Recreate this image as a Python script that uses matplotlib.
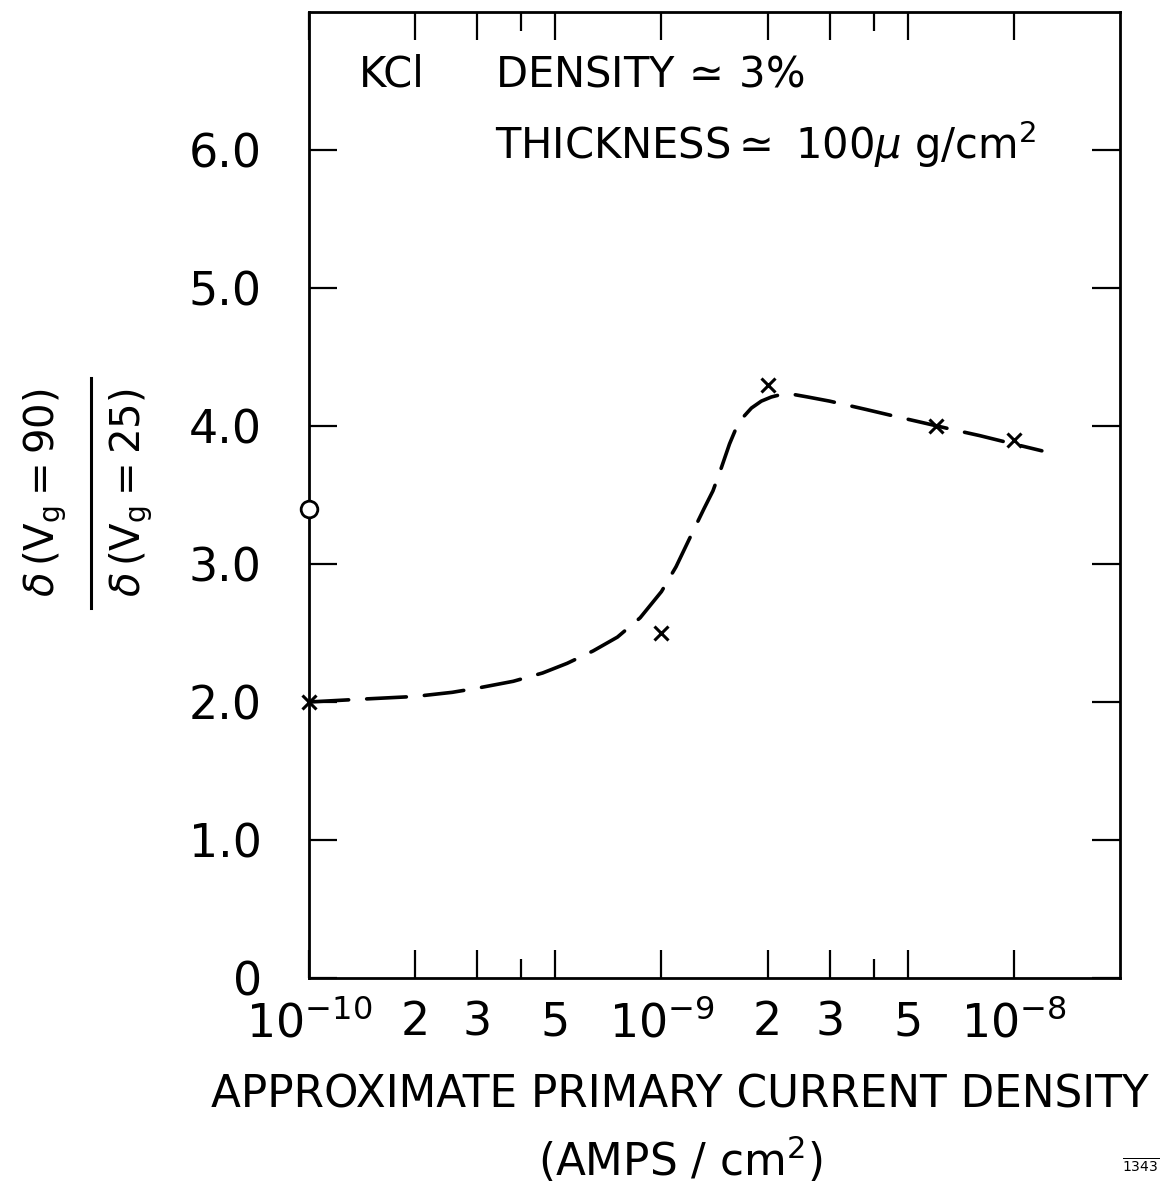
import numpy as np
import matplotlib
matplotlib.use("Agg")
import matplotlib.pyplot as plt
from matplotlib.ticker import FixedLocator, FixedFormatter, NullFormatter

plt.rcParams["font.family"] = ["DejaVu Sans"]
plt.rcParams["mathtext.fontset"] = "dejavusans"

# measured points (x), KCl
meas_j = [1e-10, 1e-9, 2e-9, 6e-9, 1e-8]
meas_r = [2.0, 2.5, 4.3, 4.0, 3.9]
# open circle at the left edge
circ_j = [1e-10]
circ_r = [3.4]

# hand-drawn dashed trend curve
curve_j = [1.0e-10, 1.4e-10, 2.0e-10, 2.55e-10, 3.0e-10, 3.8e-10, 4.6e-10,
           5.4e-10, 6.4e-10, 7.5e-10, 8.7e-10, 1.0e-9, 1.1e-9, 1.22e-9,
           1.32e-9, 1.4e-9, 1.48e-9, 1.56e-9, 1.62e-9, 1.70e-9, 1.80e-9,
           1.92e-9, 2.05e-9, 2.2e-9, 2.35e-9, 2.6e-9, 3.0e-9, 3.8e-9,
           4.6e-9, 5.6e-9, 6.8e-9, 8.0e-9, 9.6e-9, 1.2e-8]
curve_r = [2.00, 2.02, 2.04, 2.07, 2.10, 2.15, 2.21,
           2.28, 2.37, 2.47, 2.61, 2.80, 2.98, 3.22,
           3.40, 3.53, 3.70, 3.87, 3.97, 4.06, 4.13,
           4.18, 4.21, 4.23, 4.23, 4.21, 4.18, 4.12,
           4.07, 4.02, 3.97, 3.93, 3.88, 3.82]

x_major = [1e-10, 2e-10, 3e-10, 5e-10, 1e-9, 2e-9, 3e-9, 5e-9, 1e-8]
x_major_lab = [r"$10^{-10}$", "2", "3", "5", r"$10^{-9}$", "2", "3", "5",
               r"$10^{-8}$"]
x_minor = [4e-10, 4e-9]
y_ticks = [0, 1, 2, 3, 4, 5, 6]
y_lab = ["0", "1.0", "2.0", "3.0", "4.0", "5.0", "6.0"]

fig = plt.figure(figsize=(11.62, 11.85), dpi=100)
ax = fig.add_axes([0.2659, 0.1747, 0.698, 0.8152])

ax.plot(curve_j, curve_r, color="black", lw=2.6, dashes=(11, 5),
        dash_capstyle="round")
ax.plot(meas_j, meas_r, ls="none", marker="x", ms=10, mew=2.2, color="black",
        clip_on=False, zorder=5)
ax.plot(circ_j, circ_r, ls="none", marker="o", ms=12, mew=2, mfc="white",
        mec="black", clip_on=False, zorder=5)

ax.set_xscale("log")
ax.set_xlim(1e-10, 2e-8)
ax.set_ylim(0, 7)

ax.xaxis.set_major_locator(FixedLocator(x_major))
ax.xaxis.set_major_formatter(FixedFormatter(x_major_lab))
ax.xaxis.set_minor_locator(FixedLocator(x_minor))
ax.xaxis.set_minor_formatter(NullFormatter())
ax.yaxis.set_major_locator(FixedLocator(y_ticks))
ax.yaxis.set_major_formatter(FixedFormatter(y_lab))
ax.yaxis.set_minor_locator(FixedLocator([]))

ax.tick_params(axis="x", which="major", direction="in", top=True,
               length=20, width=1.6, labelsize=33, pad=16)
ax.tick_params(axis="x", which="minor", direction="in", top=True,
               length=14, width=1.6)
ax.tick_params(axis="y", which="major", direction="in", right=True,
               length=20, width=1.6, labelsize=33, pad=34)
for s in ax.spines.values():
    s.set_linewidth(2.0)

# sample description inside the frame
ax.text(0.062, 0.935, "KCl", transform=ax.transAxes, fontsize=30,
        ha="left", va="center")
ax.text(0.229, 0.935, r"DENSITY$\,\simeq\,$3%", transform=ax.transAxes,
        fontsize=30, ha="left", va="center")
ax.text(0.229, 0.863, r"THICKNESS$\simeq$ 100$\mu$ g/cm$^2$",
        transform=ax.transAxes, fontsize=30, ha="left", va="center")

# x-axis title in two lines
fig.text(0.585, 0.076, "APPROXIMATE PRIMARY CURRENT DENSITY", fontsize=31.5,
         ha="center", va="center")
fig.text(0.585, 0.021, r"(AMPS / cm$^2$)", fontsize=31.5, ha="center",
         va="center")

# y-axis title as a stacked ratio
fig.text(0.039, 0.584, r"$\delta\,(\mathrm{V_g}=90)$", fontsize=29,
         rotation=90, ha="center", va="center")
fig.text(0.113, 0.584, r"$\delta\,(\mathrm{V_g}=25)$", fontsize=29,
         rotation=90, ha="center", va="center")
fig.add_artist(plt.Line2D([0.078, 0.078], [0.487, 0.681], color="black",
                          lw=2.2, transform=fig.transFigure))

fig.text(0.966, 0.008, r"$\overline{1343}$", fontsize=10, ha="left",
         va="bottom")

fig.savefig("out.png", dpi=100)
